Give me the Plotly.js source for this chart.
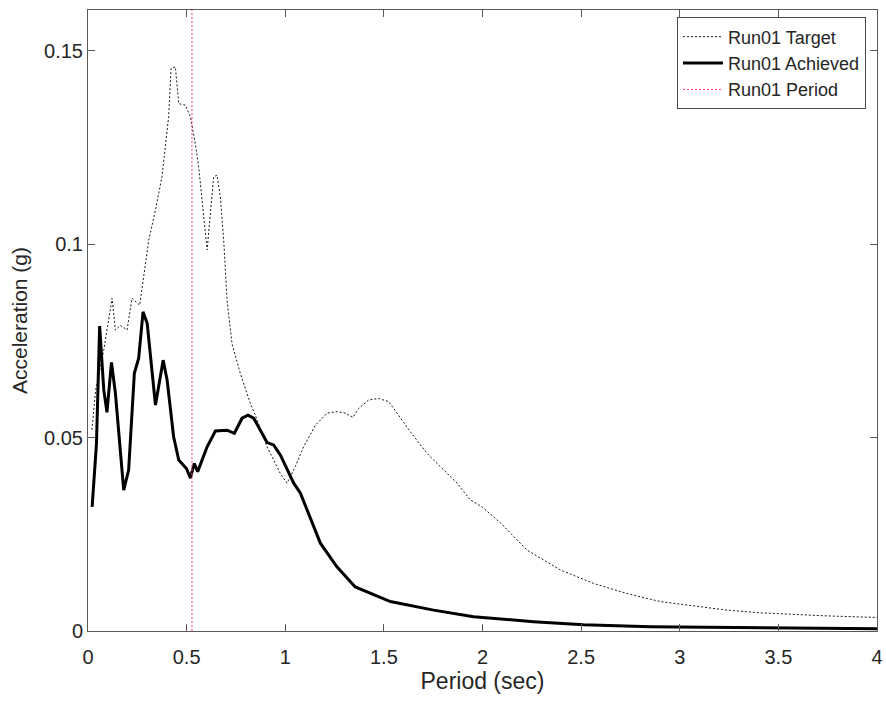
<!DOCTYPE html>
<html>
<head>
<meta charset="utf-8">
<script src="https://cdn.plot.ly/plotly-3.0.1.min.js"></script>
<style>
  html, body { margin: 0; padding: 0; background: #ffffff; }
  #chart { width: 886px; height: 704px; }
</style>
</head>
<body>
<div id="chart"></div>
<script>
// ---- Data ----
const targetPeriod = [0.02, 0.038, 0.08, 0.122, 0.139, 0.164, 0.198, 0.223, 0.262, 0.308, 0.342, 0.375, 0.409, 0.421, 0.443, 0.46, 0.494, 0.519, 0.544, 0.561, 0.604, 0.637, 0.654, 0.671, 0.688, 0.705, 0.73, 0.772, 0.823, 0.848, 0.908, 0.975, 1.009, 1.051, 1.093, 1.153, 1.212, 1.262, 1.305, 1.343, 1.372, 1.423, 1.473, 1.524, 1.567, 1.634, 1.719, 1.803, 1.871, 1.938, 1.997, 2.09, 2.226, 2.394, 2.563, 2.732, 2.901, 3.07, 3.239, 3.408, 3.577, 3.746, 4.0];
const targetAccel = [0.052, 0.062, 0.0726, 0.086, 0.0778, 0.079, 0.0778, 0.086, 0.0842, 0.101, 0.1088, 0.1174, 0.133, 0.1454, 0.1458, 0.1363, 0.1359, 0.1329, 0.126, 0.12, 0.0985, 0.1174, 0.1178, 0.1122, 0.101, 0.0855, 0.0743, 0.0666, 0.0588, 0.0558, 0.0476, 0.0407, 0.0382, 0.0425, 0.0476, 0.0532, 0.0563, 0.0567, 0.0563, 0.0552, 0.0575, 0.0597, 0.0601, 0.0593, 0.0563, 0.0515, 0.0459, 0.0416, 0.0382, 0.0339, 0.0321, 0.0280, 0.0209, 0.0158, 0.0123, 0.0097, 0.0076, 0.0065, 0.0054, 0.0047, 0.0043, 0.0039, 0.0035];

const achievedPeriod = [0.021, 0.043, 0.059, 0.071, 0.08, 0.096, 0.119, 0.139, 0.181, 0.206, 0.235, 0.257, 0.279, 0.30, 0.342, 0.381, 0.401, 0.434, 0.46, 0.499, 0.519, 0.539, 0.556, 0.604, 0.646, 0.705, 0.742, 0.781, 0.811, 0.84, 0.908, 0.941, 0.975, 1.043, 1.077, 1.178, 1.262, 1.355, 1.533, 1.752, 1.955, 2.259, 2.512, 2.85, 3.2, 3.6, 4.0];
const achievedAccel = [0.0321, 0.0485, 0.0788, 0.069, 0.0623, 0.0565, 0.0694, 0.0614, 0.0364, 0.0416, 0.0666, 0.0705, 0.0825, 0.0795, 0.0584, 0.07, 0.0649, 0.0502, 0.0442, 0.042, 0.0395, 0.0433, 0.0412, 0.0476, 0.0517, 0.0519, 0.0511, 0.055, 0.0558, 0.055, 0.0487, 0.0481, 0.0455, 0.0382, 0.0356, 0.0227, 0.0166, 0.0114, 0.0076, 0.0054, 0.0037, 0.0024, 0.0016, 0.0011, 0.0009, 0.0007, 0.0006];

const runPeriod = 0.527;
const axisRangeX = [0, 4];
const axisRangeY = [0, 0.1605];

const xTickVals = [0, 0.5, 1, 1.5, 2, 2.5, 3, 3.5, 4];
const xTickText = ['0', '0.5', '1', '1.5', '2', '2.5', '3', '3.5', '4'];
const yTickVals = [0, 0.05, 0.1, 0.15];
const yTickText = ['0', '0.05', '0.1', '0.15'];

const seriesNames = ['Run01 Target', 'Run01 Achieved', 'Run01 Period'];

// ---- Plot ----
const FONT = 'Liberation Sans, Arial, Helvetica, sans-serif';
const TXT = '#262626';
const AXC = '#5a5a5a';

const traces = [
  {
    x: targetPeriod, y: targetAccel, name: seriesNames[0],
    type: 'scatter', mode: 'lines',
    line: { color: '#1a1a1a', width: 1, dash: '2px,2px' }
  },
  {
    x: achievedPeriod, y: achievedAccel, name: seriesNames[1],
    type: 'scatter', mode: 'lines',
    line: { color: '#000000', width: 3 }
  },
  {
    x: [runPeriod, runPeriod], y: axisRangeY, name: seriesNames[2],
    type: 'scatter', mode: 'lines',
    line: { color: '#ff4466', width: 1, dash: '2px,2px' }
  }
];

const axisCommon = {
  showline: true, linecolor: AXC, linewidth: 1,
  mirror: 'ticks', ticks: 'inside', ticklen: 7, tickcolor: AXC, tickwidth: 1,
  showgrid: false, zeroline: false,
  tickfont: { family: FONT, size: 20, color: TXT }
};

const layout = {
  width: 886, height: 704,
  paper_bgcolor: '#ffffff', plot_bgcolor: '#ffffff',
  margin: { l: 88, r: 9, t: 10, b: 73 },
  showlegend: true,
  legend: {
    x: 0.986, xanchor: 'right', y: 0.988, yanchor: 'top',
    bgcolor: '#ffffff', bordercolor: '#4a4a4a', borderwidth: 1,
    font: { family: FONT, size: 18, color: TXT },
    itemwidth: 40, tracegroupgap: 0
  },
  xaxis: Object.assign({}, axisCommon, {
    range: axisRangeX, tickmode: 'array', tickvals: xTickVals, ticktext: xTickText,
    ticklabelstandoff: 8,
    title: { text: 'Period (sec)', font: { family: FONT, size: 23, color: TXT }, standoff: 4 }
  }),
  yaxis: Object.assign({}, axisCommon, {
    range: axisRangeY, tickmode: 'array', tickvals: yTickVals, ticktext: yTickText,
    title: { text: 'Acceleration (g)', font: { family: FONT, size: 21, color: TXT }, standoff: 10 }
  })
};

Plotly.newPlot('chart', traces, layout, { displayModeBar: false, staticPlot: true });
</script>
</body>
</html>
